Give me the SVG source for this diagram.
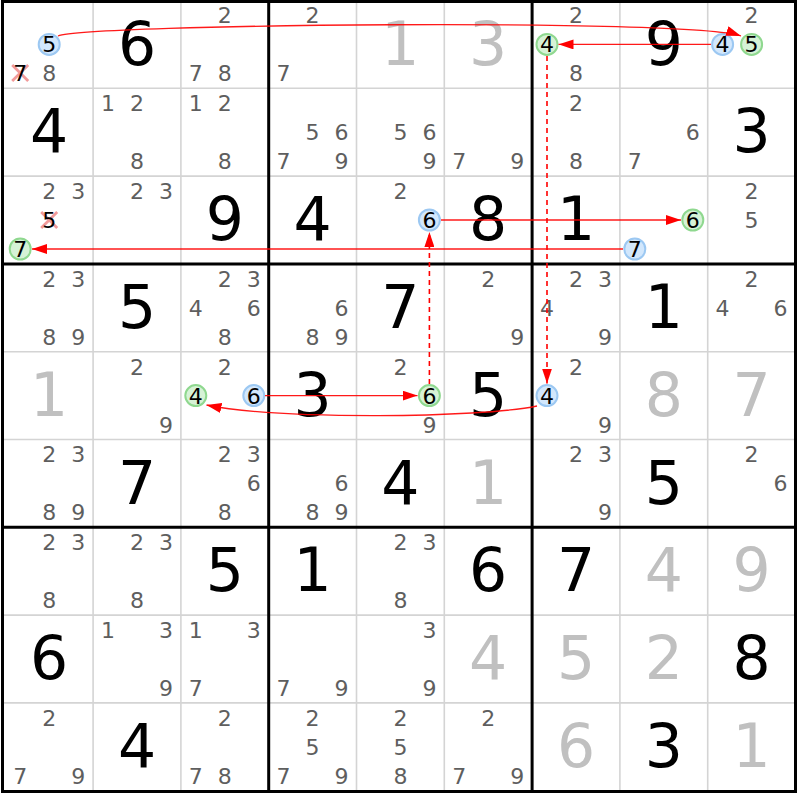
<svg xmlns="http://www.w3.org/2000/svg" width="800" height="800" viewBox="0 0 800 800">
<style>
.g{stroke:#d4d4d4;stroke-width:1.6}
.t{stroke:#000;stroke-width:3}
text{font-family:"DejaVu Sans","Liberation Sans",sans-serif;text-anchor:middle}
.c{font-size:22px;fill:#5e5e5e}
.h{font-size:22px;fill:#000}
.b{font-size:60px;fill:#000}
.v{font-size:60px;fill:#c0c0c0}
.cb{fill:#d2e7fc;stroke:#9cc8f2;stroke-width:2}
.cg{fill:#d6f2d6;stroke:#8fd88f;stroke-width:2}
.x{stroke:#f29a9a;stroke-width:2.8;fill:none}
.ln{stroke:#ff0000;stroke-width:1.3;stroke-opacity:0.9;fill:none}
.d{stroke-dasharray:5 4;stroke-width:1.6;stroke-opacity:1}
</style>
<defs>
<marker id="ah" markerUnits="userSpaceOnUse" markerWidth="15" markerHeight="10" refX="15" refY="5" orient="auto">
<path d="M0,0 L15,5 L0,10 z" fill="#ff0000"/>
</marker>
</defs>
<rect x="0" y="0" width="800" height="800" fill="#fff"/>
<g id="grid">
<path class="g" d="M93.1,1.5V791.5M180.9,1.5V791.5M356.5,1.5V791.5M444.3,1.5V791.5M619.9,1.5V791.5M707.7,1.5V791.5"/>
<path class="g" d="M2.5,88.3H795.5M2.5,176.1H795.5M2.5,351.7H795.5M2.5,439.5H795.5M2.5,615.1H795.5M2.5,702.9H795.5"/>
<path class="t" d="M268.7,1.5V791.5M532.1,1.5V791.5M2.5,263.9H795.5M2.5,527.3H795.5"/>
<rect class="t" x="2.5" y="1.5" width="793" height="790" fill="none"/>
</g>
<g id="cells">
<g id="r0c0"><circle class="cb" cx="49.2" cy="44.4" r="10.5"/><text class="h" x="49.2" y="52.4">5</text><path class="x" d="M12.2,65 L28.2,81 M28.2,65 L12.2,81"/><text class="h" x="20.2" y="81.4">7</text><text class="c" x="49.2" y="81.4">8</text></g>
<g id="r0c1"><text class="b" x="137" y="64.5">6</text></g>
<g id="r0c2"><text class="c" x="224.8" y="23.4">2</text><text class="c" x="195.8" y="81.4">7</text><text class="c" x="224.8" y="81.4">8</text></g>
<g id="r0c3"><text class="c" x="312.6" y="23.4">2</text><text class="c" x="283.6" y="81.4">7</text></g>
<g id="r0c4"><text class="v" x="400.4" y="64.5">1</text></g>
<g id="r0c5"><text class="v" x="488.2" y="64.5">3</text></g>
<g id="r0c6"><text class="c" x="576" y="23.4">2</text><circle class="cg" cx="547" cy="44.4" r="10.5"/><text class="h" x="547" y="52.4">4</text><text class="c" x="576" y="81.4">8</text></g>
<g id="r0c7"><text class="b" x="663.8" y="64.5">9</text></g>
<g id="r0c8"><text class="c" x="751.6" y="23.4">2</text><circle class="cb" cx="722.6" cy="44.4" r="10.5"/><text class="h" x="722.6" y="52.4">4</text><circle class="cg" cx="751.6" cy="44.4" r="10.5"/><text class="h" x="751.6" y="52.4">5</text></g>

<g id="r1c0"><text class="b" x="49.2" y="152.3">4</text></g>
<g id="r1c1"><text class="c" x="108" y="111.2">1</text><text class="c" x="137" y="111.2">2</text><text class="c" x="137" y="169.2">8</text></g>
<g id="r1c2"><text class="c" x="195.8" y="111.2">1</text><text class="c" x="224.8" y="111.2">2</text><text class="c" x="224.8" y="169.2">8</text></g>
<g id="r1c3"><text class="c" x="312.6" y="140.2">5</text><text class="c" x="341.6" y="140.2">6</text><text class="c" x="283.6" y="169.2">7</text><text class="c" x="341.6" y="169.2">9</text></g>
<g id="r1c4"><text class="c" x="400.4" y="140.2">5</text><text class="c" x="429.4" y="140.2">6</text><text class="c" x="429.4" y="169.2">9</text></g>
<g id="r1c5"><text class="c" x="459.2" y="169.2">7</text><text class="c" x="517.2" y="169.2">9</text></g>
<g id="r1c6"><text class="c" x="576" y="111.2">2</text><text class="c" x="576" y="169.2">8</text></g>
<g id="r1c7"><text class="c" x="692.8" y="140.2">6</text><text class="c" x="634.8" y="169.2">7</text></g>
<g id="r1c8"><text class="b" x="751.6" y="152.3">3</text></g>

<g id="r2c0"><text class="c" x="49.2" y="199">2</text><text class="c" x="78.2" y="199">3</text><path class="x" d="M41.2,212 L57.2,228 M57.2,212 L41.2,228"/><text class="h" x="49.2" y="228">5</text><circle class="cg" cx="20.2" cy="249" r="10.5"/><text class="h" x="20.2" y="257">7</text></g>
<g id="r2c1"><text class="c" x="137" y="199">2</text><text class="c" x="166" y="199">3</text></g>
<g id="r2c2"><text class="b" x="224.8" y="240.1">9</text></g>
<g id="r2c3"><text class="b" x="312.6" y="240.1">4</text></g>
<g id="r2c4"><text class="c" x="400.4" y="199">2</text><circle class="cb" cx="429.4" cy="220" r="10.5"/><text class="h" x="429.4" y="228">6</text></g>
<g id="r2c5"><text class="b" x="488.2" y="240.1">8</text></g>
<g id="r2c6"><text class="b" x="576" y="240.1">1</text></g>
<g id="r2c7"><circle class="cg" cx="692.8" cy="220" r="10.5"/><text class="h" x="692.8" y="228">6</text><circle class="cb" cx="634.8" cy="249" r="10.5"/><text class="h" x="634.8" y="257">7</text></g>
<g id="r2c8"><text class="c" x="751.6" y="199">2</text><text class="c" x="751.6" y="228">5</text></g>

<g id="r3c0"><text class="c" x="49.2" y="286.8">2</text><text class="c" x="78.2" y="286.8">3</text><text class="c" x="49.2" y="344.8">8</text><text class="c" x="78.2" y="344.8">9</text></g>
<g id="r3c1"><text class="b" x="137" y="327.9">5</text></g>
<g id="r3c2"><text class="c" x="224.8" y="286.8">2</text><text class="c" x="253.8" y="286.8">3</text><text class="c" x="195.8" y="315.8">4</text><text class="c" x="253.8" y="315.8">6</text><text class="c" x="224.8" y="344.8">8</text></g>
<g id="r3c3"><text class="c" x="341.6" y="315.8">6</text><text class="c" x="312.6" y="344.8">8</text><text class="c" x="341.6" y="344.8">9</text></g>
<g id="r3c4"><text class="b" x="400.4" y="327.9">7</text></g>
<g id="r3c5"><text class="c" x="488.2" y="286.8">2</text><text class="c" x="517.2" y="344.8">9</text></g>
<g id="r3c6"><text class="c" x="576" y="286.8">2</text><text class="c" x="605" y="286.8">3</text><text class="c" x="547" y="315.8">4</text><text class="c" x="605" y="344.8">9</text></g>
<g id="r3c7"><text class="b" x="663.8" y="327.9">1</text></g>
<g id="r3c8"><text class="c" x="751.6" y="286.8">2</text><text class="c" x="722.6" y="315.8">4</text><text class="c" x="780.6" y="315.8">6</text></g>

<g id="r4c0"><text class="v" x="49.2" y="415.7">1</text></g>
<g id="r4c1"><text class="c" x="137" y="374.6">2</text><text class="c" x="166" y="432.6">9</text></g>
<g id="r4c2"><text class="c" x="224.8" y="374.6">2</text><circle class="cg" cx="195.8" cy="395.6" r="10.5"/><text class="h" x="195.8" y="403.6">4</text><circle class="cb" cx="253.8" cy="395.6" r="10.5"/><text class="h" x="253.8" y="403.6">6</text></g>
<g id="r4c3"><text class="b" x="312.6" y="415.7">3</text></g>
<g id="r4c4"><text class="c" x="400.4" y="374.6">2</text><circle class="cg" cx="429.4" cy="395.6" r="10.5"/><text class="h" x="429.4" y="403.6">6</text><text class="c" x="429.4" y="432.6">9</text></g>
<g id="r4c5"><text class="b" x="488.2" y="415.7">5</text></g>
<g id="r4c6"><text class="c" x="576" y="374.6">2</text><circle class="cb" cx="547" cy="395.6" r="10.5"/><text class="h" x="547" y="403.6">4</text><text class="c" x="605" y="432.6">9</text></g>
<g id="r4c7"><text class="v" x="663.8" y="415.7">8</text></g>
<g id="r4c8"><text class="v" x="751.6" y="415.7">7</text></g>

<g id="r5c0"><text class="c" x="49.2" y="462.4">2</text><text class="c" x="78.2" y="462.4">3</text><text class="c" x="49.2" y="520.4">8</text><text class="c" x="78.2" y="520.4">9</text></g>
<g id="r5c1"><text class="b" x="137" y="503.5">7</text></g>
<g id="r5c2"><text class="c" x="224.8" y="462.4">2</text><text class="c" x="253.8" y="462.4">3</text><text class="c" x="253.8" y="491.4">6</text><text class="c" x="224.8" y="520.4">8</text></g>
<g id="r5c3"><text class="c" x="341.6" y="491.4">6</text><text class="c" x="312.6" y="520.4">8</text><text class="c" x="341.6" y="520.4">9</text></g>
<g id="r5c4"><text class="b" x="400.4" y="503.5">4</text></g>
<g id="r5c5"><text class="v" x="488.2" y="503.5">1</text></g>
<g id="r5c6"><text class="c" x="576" y="462.4">2</text><text class="c" x="605" y="462.4">3</text><text class="c" x="605" y="520.4">9</text></g>
<g id="r5c7"><text class="b" x="663.8" y="503.5">5</text></g>
<g id="r5c8"><text class="c" x="751.6" y="462.4">2</text><text class="c" x="780.6" y="491.4">6</text></g>

<g id="r6c0"><text class="c" x="49.2" y="550.2">2</text><text class="c" x="78.2" y="550.2">3</text><text class="c" x="49.2" y="608.2">8</text></g>
<g id="r6c1"><text class="c" x="137" y="550.2">2</text><text class="c" x="166" y="550.2">3</text><text class="c" x="137" y="608.2">8</text></g>
<g id="r6c2"><text class="b" x="224.8" y="591.3">5</text></g>
<g id="r6c3"><text class="b" x="312.6" y="591.3">1</text></g>
<g id="r6c4"><text class="c" x="400.4" y="550.2">2</text><text class="c" x="429.4" y="550.2">3</text><text class="c" x="400.4" y="608.2">8</text></g>
<g id="r6c5"><text class="b" x="488.2" y="591.3">6</text></g>
<g id="r6c6"><text class="b" x="576" y="591.3">7</text></g>
<g id="r6c7"><text class="v" x="663.8" y="591.3">4</text></g>
<g id="r6c8"><text class="v" x="751.6" y="591.3">9</text></g>

<g id="r7c0"><text class="b" x="49.2" y="679.1">6</text></g>
<g id="r7c1"><text class="c" x="108" y="638">1</text><text class="c" x="166" y="638">3</text><text class="c" x="166" y="696">9</text></g>
<g id="r7c2"><text class="c" x="195.8" y="638">1</text><text class="c" x="253.8" y="638">3</text><text class="c" x="195.8" y="696">7</text></g>
<g id="r7c3"><text class="c" x="283.6" y="696">7</text><text class="c" x="341.6" y="696">9</text></g>
<g id="r7c4"><text class="c" x="429.4" y="638">3</text><text class="c" x="429.4" y="696">9</text></g>
<g id="r7c5"><text class="v" x="488.2" y="679.1">4</text></g>
<g id="r7c6"><text class="v" x="576" y="679.1">5</text></g>
<g id="r7c7"><text class="v" x="663.8" y="679.1">2</text></g>
<g id="r7c8"><text class="b" x="751.6" y="679.1">8</text></g>

<g id="r8c0"><text class="c" x="49.2" y="725.8">2</text><text class="c" x="20.2" y="783.8">7</text><text class="c" x="78.2" y="783.8">9</text></g>
<g id="r8c1"><text class="b" x="137" y="766.9">4</text></g>
<g id="r8c2"><text class="c" x="224.8" y="725.8">2</text><text class="c" x="195.8" y="783.8">7</text><text class="c" x="224.8" y="783.8">8</text></g>
<g id="r8c3"><text class="c" x="312.6" y="725.8">2</text><text class="c" x="312.6" y="754.8">5</text><text class="c" x="283.6" y="783.8">7</text><text class="c" x="341.6" y="783.8">9</text></g>
<g id="r8c4"><text class="c" x="400.4" y="725.8">2</text><text class="c" x="400.4" y="754.8">5</text><text class="c" x="400.4" y="783.8">8</text></g>
<g id="r8c5"><text class="c" x="488.2" y="725.8">2</text><text class="c" x="459.2" y="783.8">7</text><text class="c" x="517.2" y="783.8">9</text></g>
<g id="r8c6"><text class="v" x="576" y="766.9">6</text></g>
<g id="r8c7"><text class="b" x="663.8" y="766.9">3</text></g>
<g id="r8c8"><text class="v" x="751.6" y="766.9">1</text></g>
</g>
<g id="connectors">
<path class="ln" marker-end="url(#ah)" d="M58,36 C85,24 690,18 741,36"/>
<path class="ln" marker-end="url(#ah)" d="M711,44.4 L558.5,44.4"/>
<path class="ln d" marker-end="url(#ah)" d="M547,56 L547,383.5"/>
<path class="ln" marker-end="url(#ah)" d="M537,406 C480,418 280,420 206.5,405"/>
<path class="ln" marker-end="url(#ah)" d="M265,395.6 L417.5,395.6"/>
<path class="ln d" marker-end="url(#ah)" d="M429.4,384 L429.4,232"/>
<path class="ln" marker-end="url(#ah)" d="M441,220 L681,220"/>
<path class="ln" marker-end="url(#ah)" d="M623,249 L32,249"/>
</g>
</svg>
